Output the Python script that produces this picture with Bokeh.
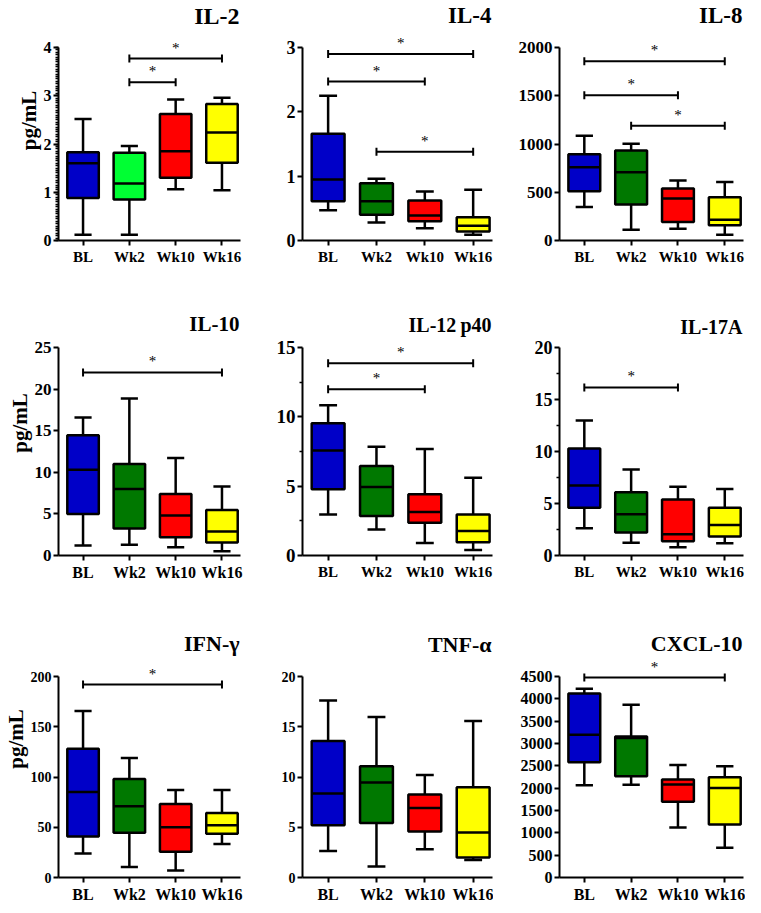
import numpy as np
from bokeh.plotting import figure
from bokeh.layouts import gridplot
from bokeh.models import Range1d, FixedTicker, Label
from bokeh.embed import file_html
from bokeh.resources import INLINE

groups = ["BL", "Wk2", "Wk10", "Wk16"]

# five-number summaries (min, Q1, median, Q3, max) per group
il2_min = [0.12, 0.12, 1.06, 1.04]
il2_q1 = [0.88, 0.85, 1.30, 1.61]
il2_med = [1.60, 1.18, 1.85, 2.24]
il2_q3 = [1.83, 1.82, 2.62, 2.83]
il2_max = [2.52, 1.96, 2.92, 2.96]
il2_sig = [("Wk2", "Wk16", 3.77), ("Wk2", "Wk10", 3.28)]

il4_min = [0.47, 0.28, 0.19, 0.09]
il4_q1 = [0.61, 0.40, 0.30, 0.14]
il4_med = [0.95, 0.61, 0.39, 0.23]
il4_q3 = [1.66, 0.89, 0.62, 0.36]
il4_max = [2.25, 0.96, 0.76, 0.79]
il4_sig = [("BL", "Wk16", 2.90), ("BL", "Wk10", 2.47), ("Wk2", "Wk16", 1.38)]

il8_min = [348, 111, 122, 59]
il8_q1 = [511, 372, 191, 157]
il8_med = [758, 706, 435, 216]
il8_q3 = [894, 932, 539, 449]
il8_max = [1085, 1002, 623, 605]
il8_sig = [("BL", "Wk16", 1857), ("BL", "Wk10", 1506), ("Wk2", "Wk16", 1190)]

il10_min = [1.2, 1.28, 1.0, 0.52]
il10_q1 = [5.0, 3.24, 2.2, 1.56]
il10_med = [10.32, 8.0, 4.8, 2.88]
il10_q3 = [14.44, 11.0, 7.4, 5.48]
il10_max = [16.6, 18.88, 11.72, 8.28]
il10_sig = [("BL", "Wk16", 22.0)]

il12_min = [2.96, 1.88, 0.91, 0.39]
il12_q1 = [4.77, 2.84, 2.36, 0.96]
il12_med = [7.58, 4.94, 3.13, 1.76]
il12_q3 = [9.53, 6.45, 4.41, 2.96]
il12_max = [10.83, 7.85, 7.68, 5.61]
il12_sig = [("BL", "Wk16", 13.87), ("BL", "Wk10", 11.99)]

il17_min = [2.62, 1.22, 0.80, 1.18]
il17_q1 = [4.58, 2.21, 1.38, 1.82]
il17_med = [6.72, 3.97, 2.05, 2.94]
il17_q3 = [10.30, 6.08, 5.38, 4.60]
il17_max = [12.99, 8.26, 6.62, 6.40]
il17_sig = [("BL", "Wk10", 16.16)]

ifn_min = [23.9, 10.5, 7.0, 33.4]
ifn_q1 = [40.8, 44.6, 25.5, 43.6]
ifn_med = [85.0, 71.0, 50.0, 51.9]
ifn_q3 = [128.0, 98.0, 73.2, 64.3]
ifn_max = [165.6, 119.0, 87.0, 87.0]
ifn_sig = [("BL", "Wk16", 192.0)]

tnf_min = [2.64, 1.09, 2.80, 1.74]
tnf_q1 = [5.21, 5.43, 4.57, 1.99]
tnf_med = [8.36, 9.45, 6.91, 4.47]
tnf_q3 = [13.57, 11.06, 8.26, 8.97]
tnf_max = [17.60, 15.98, 10.19, 15.56]
tnf_sig = []

cxcl_min = [2063, 2077, 1117, 666]
cxcl_q1 = [2579, 2264, 1698, 1189]
cxcl_med = [3195, 3123, 2084, 2006]
cxcl_q3 = [4119, 3159, 2192, 2242]
cxcl_max = [4226, 3868, 2521, 2493]
cxcl_sig = [("BL", "Wk16", 4477)]

BLUE = "#0000C8"
LIME = "#00FF33"
GREEN = "#007800"
RED = "#FF0000"
YELLOW = "#FFFF00"

FONT = "Liberation Serif"

# layout (pixels)
COLW = [243, 250, 252]
LEFT = [50, 59, 66]
FRAMEW = [190, 190, 184]
ROWH = [290, 310, 305]
DATA_TOP = [47, 57, 76]      # pixel of the top tick inside each row
DATA_BOT = [240, 265, 277]   # pixel of the zero line inside each row
X_RANGE = (0.47, 4.4)


def panel(r, c, title, mins, q1, med, q3, mx, sig, colors, yticks, minor,
          tick_fs, xlab_fs, title_fs, title_y, ylabel=None):
    W, L, FW = COLW[c], LEFT[c], FRAMEW[c]
    H, DT, DB = ROWH[r], DATA_TOP[r], DATA_BOT[r]
    y0, y1 = yticks[0], yticks[-1]
    yend = y0 + (y1 - y0) * DB / (DB - DT)
    p = figure(width=W, height=H, output_backend="svg", toolbar_location=None,
               x_range=Range1d(*X_RANGE), y_range=Range1d(y0, yend),
               min_border_left=L, min_border_right=W - L - FW,
               min_border_top=0, min_border_bottom=H - DB)
    p.outline_line_color = None
    p.grid.visible = False
    p.background_fill_color = "white"
    p.border_fill_color = "white"

    x = np.arange(1, len(groups) + 1)
    bw = 0.68
    cw = 0.37
    p.segment(x0=x, y0=q3, x1=x, y1=mx, line_color="black", line_width=2.5)
    p.segment(x0=x, y0=q1, x1=x, y1=mins, line_color="black", line_width=2.5)
    p.segment(x0=x - cw / 2, y0=mx, x1=x + cw / 2, y1=mx, line_color="black", line_width=2.5)
    p.segment(x0=x - cw / 2, y0=mins, x1=x + cw / 2, y1=mins, line_color="black", line_width=2.5)
    p.vbar(x=x, width=bw, bottom=q1, top=q3, fill_color=colors,
           line_color="black", line_width=2.5)
    p.segment(x0=x - bw / 2, y0=med, x1=x + bw / 2, y1=med, line_color="black", line_width=2.5)

    for a, b, yv in sig:
        xa = groups.index(a) + 1
        xb = groups.index(b) + 1
        p.segment(x0=[xa], y0=[yv], x1=[xb], y1=[yv], line_color="black", line_width=2)
        p.scatter(x=[xa, xb], y=[yv, yv], marker="dash", size=8, angle=np.pi / 2,
                  line_color="black", line_width=2)
        p.add_layout(Label(x=(xa + xb) / 2, y=yv, text="*", text_align="center",
                           text_baseline="middle", y_offset=11, text_font=FONT,
                           text_font_size="15px", text_color="black"))

    p.add_layout(Label(x=X_RANGE[1], y=DB - title_y, x_units="data", y_units="screen",
                       x_offset=-1, text=title, text_align="right", text_baseline="middle",
                       text_font=FONT, text_font_style="bold",
                       text_font_size=f"{title_fs}px", text_color="black"))

    xa_ = p.xaxis[0]
    xa_.ticker = FixedTicker(ticks=list(x))
    xa_.major_label_overrides = {int(i + 1): g for i, g in enumerate(groups)}
    xa_.minor_tick_line_color = None
    xa_.major_tick_out = 5
    xa_.major_tick_in = 0
    xa_.major_label_standoff = 3
    xa_.major_label_text_font = FONT
    xa_.major_label_text_font_style = "bold"
    xa_.major_label_text_font_size = f"{xlab_fs}px"

    ya = p.yaxis[0]
    ya.ticker = FixedTicker(ticks=yticks, minor_ticks=minor)
    ya.bounds = (y0, y1)
    ya.major_tick_out = 5
    ya.major_tick_in = 0
    ya.minor_tick_out = 3
    ya.minor_tick_in = 0
    ya.major_label_standoff = 2
    ya.major_label_text_font = FONT
    ya.major_label_text_font_style = "bold"
    ya.major_label_text_font_size = f"{tick_fs}px"

    for ax in (xa_, ya):
        ax.axis_line_width = 2
        ax.axis_line_color = "black"
        ax.major_tick_line_width = 2
        ax.major_tick_line_color = "black"
        ax.minor_tick_line_width = 1.5
        ax.major_label_text_color = "black"
    if ylabel:
        ya.axis_label = ylabel
        ya.axis_label_standoff = 0
        ya.axis_label_text_font = FONT
        ya.axis_label_text_font_style = "bold"
        ya.axis_label_text_font_size = "21px"
        ya.axis_label_text_color = "black"
    return p


c_il2 = [BLUE, LIME, RED, YELLOW]
c_std = [BLUE, GREEN, RED, YELLOW]

il2_ticks = [0, 1, 2, 3, 4]
il2_minor = [round(v * 0.05, 2) for v in range(0, 81)]
il4_ticks = [0, 1, 2, 3]
il8_ticks = [0, 500, 1000, 1500, 2000]
il10_ticks = [0, 5, 10, 15, 20, 25]
il12_ticks = [0, 5, 10, 15]
il12_minor = [2.5, 7.5, 12.5]
il17_ticks = [0, 5, 10, 15, 20]
il17_minor = [2.5, 7.5, 12.5, 17.5]
ifn_ticks = [0, 50, 100, 150, 200]
tnf_ticks = [0, 5, 10, 15, 20]
cxcl_ticks = [0, 500, 1000, 1500, 2000, 2500, 3000, 3500, 4000, 4500]

p1 = panel(0, 0, "IL-2", il2_min, il2_q1, il2_med, il2_q3, il2_max, il2_sig, c_il2,
           il2_ticks, il2_minor, 16, 15, 24, 15, "pg/mL")
p2 = panel(0, 1, "IL-4", il4_min, il4_q1, il4_med, il4_q3, il4_max, il4_sig, c_std,
           il4_ticks, [], 18, 15, 23, 15)
p3 = panel(0, 2, "IL-8", il8_min, il8_q1, il8_med, il8_q3, il8_max, il8_sig, c_std,
           il8_ticks, [], 17, 15, 23, 15)
p4 = panel(1, 0, "IL-10", il10_min, il10_q1, il10_med, il10_q3, il10_max, il10_sig, c_std,
           il10_ticks, [], 17, 16, 21, 33, "pg/mL")
p5 = panel(1, 1, "IL-12\u2009p40", il12_min, il12_q1, il12_med, il12_q3, il12_max, il12_sig, c_std,
           il12_ticks, il12_minor, 19, 15, 20, 34)
p6 = panel(1, 2, "IL-17A", il17_min, il17_q1, il17_med, il17_q3, il17_max, il17_sig, c_std,
           il17_ticks, il17_minor, 18, 15, 20, 36)
p7 = panel(2, 0, "IFN-\u03b3", ifn_min, ifn_q1, ifn_med, ifn_q3, ifn_max, ifn_sig, c_std,
           ifn_ticks, [], 14, 16, 22, 43, "pg/mL")
p8 = panel(2, 1, "TNF-\u03b1", tnf_min, tnf_q1, tnf_med, tnf_q3, tnf_max, tnf_sig, c_std,
           tnf_ticks, [], 14, 16, 22, 44)
p9 = panel(2, 2, "CXCL-10", cxcl_min, cxcl_q1, cxcl_med, cxcl_q3, cxcl_max, cxcl_sig, c_std,
           cxcl_ticks, [], 16, 16, 22, 43)

grid = gridplot([[p1, p2, p3], [p4, p5, p6], [p7, p8, p9]], toolbar_location=None)

open("out.html", "w").write(file_html(grid, INLINE))
